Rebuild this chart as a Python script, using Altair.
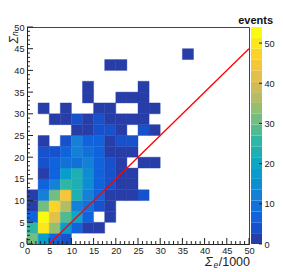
import altair as alt
import pandas as pd
import numpy as np

# ---------------- data ----------------
bin_width = 2.5          # both axes: 20 bins from 0 to 50
z_max = 54               # top of the colour axis
n_levels = 20            # colour contours

# event counts per Sigma_n row (row k covers k*2.5 .. (k+1)*2.5);
# list position = Sigma_e/1000 bin
row_00 = [31, 17, 7, 4]
row_01 = [25, 50, 34, 17, 7, 2, 1]
row_02 = [7, 54, 42, 28, 20, 7, 0, 2]
row_03 = [2, 31, 47, 36, 12, 9, 4, 2]
row_04 = [2, 12, 31, 45, 23, 12, 7, 2, 1, 2, 4]
row_05 = [0, 7, 12, 25, 23, 15, 7, 4, 2, 1]
row_06 = [0, 2, 7, 17, 23, 15, 7, 4, 2, 1]
row_07 = [0, 4, 7, 10, 10, 12, 7, 4, 2, 0, 1, 2]
row_08 = [0, 4, 4, 7, 12, 10, 7, 2, 2, 1]
row_09 = [0, 2, 0, 4, 12, 7, 7, 2, 4, 3]
row_10 = [0, 0, 0, 0, 2, 2, 4, 3, 2, 0, 3, 1]
row_11 = [0, 0, 2, 1, 4, 2, 3, 2, 1, 2, 1]
row_12 = [0, 2, 0, 1, 0, 0, 1, 2, 0, 0, 1, 1]
row_13 = [0, 0, 0, 0, 0, 1, 0, 0, 1, 2, 1]
row_14 = [0, 0, 0, 0, 0, 2, 0, 0, 0, 0, 1]
row_15 = []
row_16 = [0, 0, 0, 0, 0, 0, 0, 1, 1]
row_17 = [0, 0, 0, 0, 0, 0, 0, 0, 0, 0, 0, 0, 0, 0, 1]

rows = [row_00, row_01, row_02, row_03, row_04, row_05, row_06, row_07, row_08,
        row_09, row_10, row_11, row_12, row_13, row_14, row_15, row_16, row_17]

line_x = [5, 50]
line_y = [0, 45]

axis_labels = [0, 5, 10, 15, 20, 25, 30, 35, 40, 45, 50]
cbar_labels = [0, 10, 20, 30, 40, 50]

x_title_parts = ["\u03A3", "e", "/1000"]
y_title_parts = ["\u03A3", "n"]
z_title = "events"

# ---------------- palette (ROOT kBird) ----------------
stops = [0.0, 0.125, 0.25, 0.375, 0.5, 0.625, 0.75, 0.875, 1.0]
pr = [0.2082, 0.0592, 0.0780, 0.0232, 0.1802, 0.5301, 0.8186, 0.9956, 0.9764]
pg = [0.1664, 0.3599, 0.5041, 0.6419, 0.7178, 0.7492, 0.7328, 0.7862, 0.9832]
pb = [0.5293, 0.8684, 0.8385, 0.7914, 0.6425, 0.4662, 0.3499, 0.1968, 0.0539]
colors = []
for i in range(n_levels):
    idx = int((i + 0.99) * 255 / n_levels)
    t = min(idx, 254) / 254.0
    r = np.interp(t, stops, pr); g = np.interp(t, stops, pg); b = np.interp(t, stops, pb)
    colors.append("#%02x%02x%02x" % (int(round(r * 255)), int(round(g * 255)), int(round(b * 255))))

# ---------------- tables ----------------
recs = []
for j, row in enumerate(rows):
    for i, n in enumerate(row):
        if n > 0:
            recs.append({"x0": i * bin_width, "x1": (i + 1) * bin_width,
                         "y0": j * bin_width, "y1": (j + 1) * bin_width, "n": n})
cells = pd.DataFrame(recs)

major = pd.DataFrame({"x0": axis_labels, "y0": axis_labels})
minor_vals = [v for v in range(0, 51) if v % 5]
minor = pd.DataFrame({"x0": minor_vals, "y0": minor_vals})
line_df = pd.DataFrame({"x0": line_x, "y0": line_y})

step = z_max / n_levels
cb = pd.DataFrame({"z0": [k * step for k in range(n_levels)],
                   "z1": [(k + 1) * step for k in range(n_levels)],
                   "mid": [(k + 0.5) * step for k in range(n_levels)]})
cb_ticks = pd.DataFrame({"z0": cbar_labels})

# ---------------- chart ----------------
W, H = 222, 217
CB_L, CB_R = W + 2, W + 13     # colour bar, just right of the frame
FONT = "Liberation Sans"
AX = "#222222"
LFS = 9.2

xs = alt.Scale(domain=[0, 50], nice=False, zero=False)
ys = alt.Scale(domain=[0, 50], nice=False, zero=False)
cscale = alt.Scale(type="quantize", domain=[0, z_max], range=colors, nice=False)

x_axis = alt.Axis(values=axis_labels, ticks=False, labelPadding=2, title=None, grid=False,
                  labelFlush=False, labelOverlap=False, domainColor=AX, format="d")
y_axis = alt.Axis(values=axis_labels, ticks=False, labelPadding=3, title=None, grid=False,
                  labelFlush=False, labelOverlap=False, domainColor=AX, format="d")
X = lambda: alt.X("x0:Q", scale=xs, axis=x_axis)
Y = lambda: alt.Y("y0:Q", scale=ys, axis=y_axis)

xt_major = alt.Chart(major).mark_rule(color=AX, strokeWidth=1).encode(
    x=X(), y=alt.value(H), y2=alt.value(H - 6))
xt_minor = alt.Chart(minor).mark_rule(color=AX, strokeWidth=1).encode(
    x=X(), y=alt.value(H), y2=alt.value(H - 3))
yt_major = alt.Chart(major).mark_rule(color=AX, strokeWidth=1).encode(
    y=Y(), x=alt.value(0), x2=alt.value(6))
yt_minor = alt.Chart(minor).mark_rule(color=AX, strokeWidth=1).encode(
    y=Y(), x=alt.value(0), x2=alt.value(3))

rects = alt.Chart(cells).mark_rect(strokeWidth=0.4).encode(
    x=X(), x2="x1:Q", y=Y(), y2="y1:Q",
    color=alt.Color("n:Q", scale=cscale, legend=None),
    stroke=alt.Stroke("n:Q", scale=cscale, legend=None))

red = alt.Chart(line_df).mark_line(color="#ff0000", strokeWidth=1.3).encode(x=X(), y=Y())

def txt(s):
    return alt.Chart(pd.DataFrame({"t": [s]}))

xt1 = txt(x_title_parts[0]).mark_text(align="left", baseline="alphabetic", fontSize=12.5,
                                      fontStyle="italic", color=AX).encode(
    text="t:N", x=alt.value(178), y=alt.value(239))
xt2 = txt(x_title_parts[1]).mark_text(align="left", baseline="alphabetic", fontSize=8.5,
                                      fontStyle="italic", color=AX).encode(
    text="t:N", x=alt.value(186.5), y=alt.value(241))
xt3 = txt(x_title_parts[2]).mark_text(align="right", baseline="alphabetic", fontSize=12.5,
                                      color=AX).encode(
    text="t:N", x=alt.value(223), y=alt.value(239))
yt1 = txt(y_title_parts[0]).mark_text(align="left", baseline="alphabetic", fontSize=12,
                                      fontStyle="italic", angle=270, color=AX).encode(
    text="t:N", x=alt.value(-9), y=alt.value(16.5))
yt2 = txt(y_title_parts[1]).mark_text(align="left", baseline="alphabetic", fontSize=8.5,
                                      fontStyle="italic", angle=270, color=AX).encode(
    text="t:N", x=alt.value(-9.5), y=alt.value(9))

main = alt.layer(rects, xt_major, xt_minor, yt_major, yt_minor, red,
                 xt1, xt2, xt3, yt1, yt2)

# colour bar (its own y scale, drawn just right of the frame)
cb_y = alt.Scale(domain=[0, z_max], nice=False, zero=False)
cb_axis = alt.Axis(orient="right", values=cbar_labels, ticks=False, labelPadding=2, domain=False,
                   grid=False, title=None, labelFlush=False, labelOverlap=False,
                   offset=CB_R - W)
CY = lambda: alt.Y("z0:Q", scale=cb_y, axis=cb_axis)
cb_rect = alt.Chart(cb).mark_rect().encode(
    y=CY(), y2="z1:Q", x=alt.value(CB_L), x2=alt.value(CB_R),
    color=alt.Color("mid:Q", scale=cscale, legend=None))
cb_tk = alt.Chart(cb_ticks).mark_rule(color=AX, strokeWidth=1).encode(
    y=CY(), x=alt.value(CB_R), x2=alt.value(CB_R - 3))
cb_title = txt(z_title).mark_text(align="right", baseline="alphabetic", fontSize=11,
                                  fontWeight="bold", color="#111").encode(
    text="t:N", x=alt.value(246), y=alt.value(-3))
cbar = alt.layer(cb_rect, cb_tk, cb_title)

chart = alt.layer(main, cbar).resolve_scale(y="independent").properties(
    width=W, height=H, autosize=alt.AutoSizeParams(type="none"),
    padding={"left": 19, "top": 19, "right": 26, "bottom": 28}
).configure(font=FONT).configure_view(stroke="#444444", strokeWidth=1).configure_axis(
    labelFont=FONT, labelFontSize=LFS, labelColor=AX, grid=False)

chart.save("out.html", embed_options={"renderer": "svg", "actions": False})
